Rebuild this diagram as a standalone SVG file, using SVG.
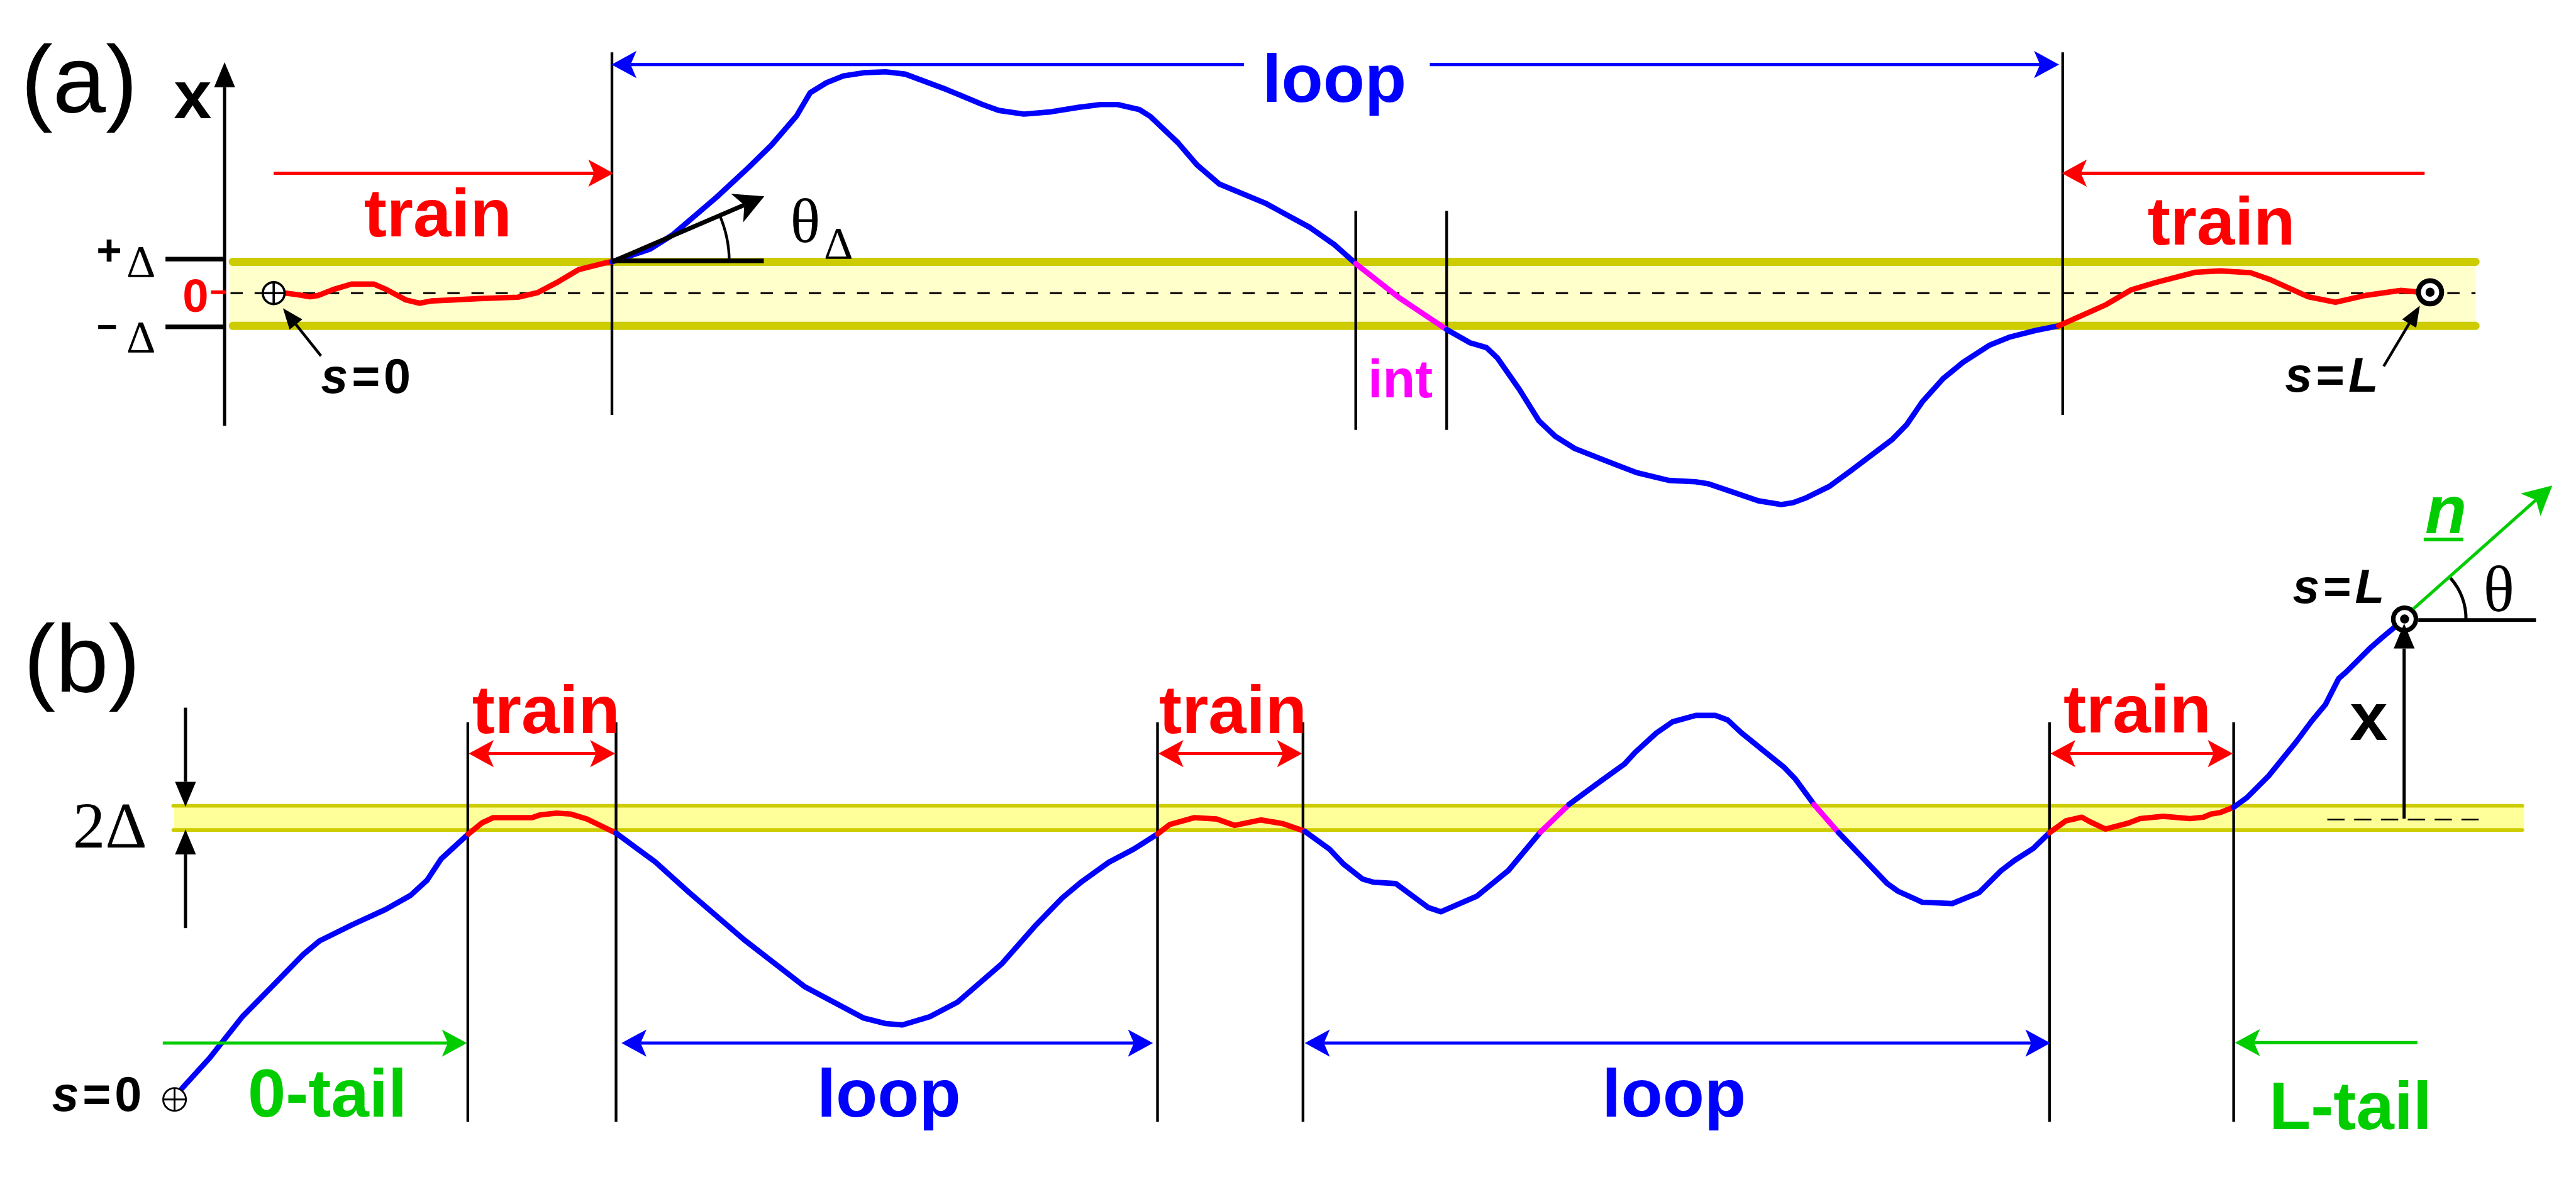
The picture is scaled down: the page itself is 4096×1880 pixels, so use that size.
<svg xmlns="http://www.w3.org/2000/svg" width="4096" height="1880" viewBox="0 0 4096 1880">
<style>
.t{font-family:"Liberation Sans",Arial,sans-serif;font-weight:bold}
.g{font-family:"Liberation Serif","Times New Roman",serif}
.p{font-family:"Liberation Sans",Arial,sans-serif;font-size:210px}
.cb{fill:none;stroke:#0000FF;stroke-width:12;stroke-linejoin:round;stroke-linecap:round}
.cr{fill:none;stroke:#FF0000;stroke-width:12;stroke-linejoin:round;stroke-linecap:round}
.cm{fill:none;stroke:#FF00FF;stroke-width:12;stroke-linejoin:round;stroke-linecap:round}
.vl{stroke:#000;stroke-width:6;fill:none}
.ab{stroke:#0000FF;stroke-width:7;fill:none}
.ar{stroke:#FF0000;stroke-width:7;fill:none}
.ag{stroke:#00CC00;stroke-width:7;fill:none}
.ak{stroke:#000;stroke-width:7;fill:none}
.bl{stroke:#CCCC00;stroke-linecap:round;fill:none}
</style>
<defs>
<marker id="stB" markerUnits="userSpaceOnUse" viewBox="-20 -40 80 80" markerWidth="80" markerHeight="80" refX="0" refY="0" orient="auto-start-reverse"><path d="M42,0 L-13,-30 L0,0 L-13,30 Z" fill="#0000FF"/></marker>
<marker id="stR" markerUnits="userSpaceOnUse" viewBox="-20 -40 80 80" markerWidth="80" markerHeight="80" refX="0" refY="0" orient="auto-start-reverse"><path d="M42,0 L-13,-30 L0,0 L-13,30 Z" fill="#FF0000"/></marker>
<marker id="stG" markerUnits="userSpaceOnUse" viewBox="-20 -40 80 80" markerWidth="80" markerHeight="80" refX="0" refY="0" orient="auto-start-reverse"><path d="M42,0 L-13,-30 L0,0 L-13,30 Z" fill="#00CC00"/></marker>
<marker id="bigK" markerUnits="userSpaceOnUse" viewBox="-20 -40 80 80" markerWidth="80" markerHeight="80" refX="0" refY="0" orient="auto"><path d="M48,0 L-17,-34 L0,0 L-17,34 Z" fill="#000"/></marker>
<marker id="bigG" markerUnits="userSpaceOnUse" viewBox="-20 -40 80 80" markerWidth="80" markerHeight="80" refX="0" refY="0" orient="auto"><path d="M48,0 L-16,-33 L0,0 L-16,33 Z" fill="#00CC00"/></marker>
<marker id="tri" markerUnits="userSpaceOnUse" viewBox="-20 -40 80 80" markerWidth="80" markerHeight="80" refX="0" refY="0" orient="auto"><path d="M55,0 L0,-23 L0,23 Z" fill="#000"/></marker>
<marker id="ptr" markerUnits="userSpaceOnUse" viewBox="-20 -40 80 80" markerWidth="80" markerHeight="80" refX="0" refY="0" orient="auto"><path d="M46,0 L0,-18 L0,18 Z" fill="#000"/></marker>
</defs>
<rect width="4096" height="1880" fill="#fff"/>
<g transform="scale(0.722908)">
<g id="panel-a">
 <g id="band-a">
  <rect x="505" y="576" width="4940" height="141" fill="#FFFFCC"/>
  <path class="bl" stroke-width="18" d="M512,576 H5445 M512,717 H5445"/>
  <path d="M507,645 H5445" stroke="#000" stroke-width="4" stroke-dasharray="27 26"/>
 </g>
 <g id="axis-a">
  <path class="ak" d="M494,937 V192" marker-end="url(#tri)"/>
  <path d="M364,570 H491 M364,719 H491" stroke="#000" stroke-width="10"/>
  <path d="M464,643 H497" stroke="#FF0000" stroke-width="8"/>
 </g>
 <g id="dividers-a">
  <path class="vl" d="M1346,115 V913 M4537,115 V913 M2982,464 V946 M3182,464 V946"/>
 </g>
 <g id="chain-a">
  <polyline class="cr" points="628,645 653,648 682,653 700,650 733,637 773,625 822,625 850,637 893,660 923,667 950,662 994,660 1055,657 1139,654 1182,644 1224,622 1273,593 1333,578 1346,576"/>
  <polyline class="cb" points="1346,576 1430,548 1479,517 1576,434 1648,367 1697,319 1752,255 1782,204 1818,182 1855,167 1900,160 1948,158 1991,163 2082,197 2161,230 2197,243 2252,251 2312,246 2373,236 2421,230 2458,230 2506,241 2530,256 2591,314 2633,363 2682,405 2785,448 2882,501 2936,539 2982,580"/>
  <polyline class="cm" points="2982,580 3076,654 3182,725"/>
  <polyline class="cb" points="3182,725 3233,754 3270,765 3294,788 3342,857 3385,926 3421,960 3464,987 3561,1025 3600,1040 3671,1057 3729,1060 3756,1064 3801,1079 3868,1102 3918,1110 3944,1106 3971,1096 4024,1070 4069,1037 4162,967 4194,934 4229,883 4274,833 4318,797 4377,759 4419,742 4478,727 4528,717"/>
  <polyline class="cr" points="4528,717 4633,670 4687,638 4740,622 4829,599 4883,596 4950,600 4993,615 5077,653 5137,665 5203,650 5280,639 5315,642"/>
 </g>
 <g id="connectors-a">
  <path class="ab" d="M2736,142 H1387" marker-end="url(#stB)"/>
  <path class="ab" d="M3145,142 H4487" marker-end="url(#stB)"/>
  <path class="ar" d="M602,381 H1307" marker-end="url(#stR)"/>
  <path class="ar" d="M5333,381 H4577" marker-end="url(#stR)"/>
  <path d="M1346,576 L1637,451" stroke="#000" stroke-width="10" fill="none" marker-end="url(#bigK)"/>
  <path d="M1346,574 H1680" stroke="#000" stroke-width="10"/>
  <path d="M1583,474 A258,258 0 0 1 1604,574" stroke="#000" stroke-width="6" fill="none"/>
  <path d="M706,783 L651,714" stroke="#000" stroke-width="6" marker-end="url(#ptr)"/>
  <path d="M5243,806 L5299,712" stroke="#000" stroke-width="6" marker-end="url(#ptr)"/>
 </g>
 <g id="ends-a">
  <g id="s0-a"><circle cx="602" cy="645" r="24" fill="#fff" stroke="#000" stroke-width="5"/><path d="M578,645 H626 M602,621 V669" stroke="#000" stroke-width="5"/></g>
  <g id="sL-a"><circle cx="5345" cy="643" r="25.5" fill="#fff" stroke="#000" stroke-width="11"/><circle cx="5345" cy="643" r="10" fill="#000"/></g>
 </g>
 <g id="labels-a">
  <text class="p" x="46" y="247">(a)</text>
  <text class="t" x="424" y="260" font-size="150" text-anchor="middle">x</text>
  <text class="t" x="212" y="582" font-size="96">+</text>
  <text class="g" x="278" y="609" font-size="100">Δ</text>
  <text class="t" x="213" y="745" font-size="78">−</text>
  <text class="g" x="278" y="775" font-size="100">Δ</text>
  <text class="t" x="430" y="686" font-size="103" text-anchor="middle" fill="#FF0000">0</text>
  <text class="t" x="963" y="520" font-size="150" text-anchor="middle" fill="#FF0000">train</text>
  <text class="t" x="4886" y="538" font-size="150" text-anchor="middle" fill="#FF0000">train</text>
  <text class="t" x="2935" y="224" font-size="150" text-anchor="middle" fill="#0000FF">loop</text>
  <text class="t" x="3080" y="874" font-size="117" text-anchor="middle" fill="#FF00FF">int</text>
  <text class="g" x="1738" y="532" font-size="138">θ</text>
  <text class="g" x="1812" y="568" font-size="100">Δ</text>
  <text class="t" x="706" y="864" font-size="107" letter-spacing="8"><tspan font-style="italic">s</tspan>=0</text>
  <text class="t" x="5026" y="862" font-size="108" letter-spacing="8"><tspan font-style="italic">s</tspan>=<tspan font-style="italic">L</tspan></text>
 </g>
</g>
<g id="panel-b">
 <g id="band-b">
  <rect x="383" y="1773" width="5169" height="53" fill="#FFFF99"/>
  <path class="bl" stroke-width="8" d="M381,1773 H5548 M381,1826 H5548"/>
  <path d="M5119,1803 H5460" stroke="#000" stroke-width="3.5" stroke-dasharray="38 21"/>
 </g>
 <g id="dividers-b">
  <path class="vl" d="M1029,1589 V2468 M1355,1589 V2468 M2546,1589 V2468 M2866,1589 V2468 M4508,1589 V2468 M4913,1589 V2468"/>
 </g>
 <g id="chain-b">
  <polyline class="cb" points="400,2395 461,2328 533,2237 594,2175 667,2100 703,2070 776,2034 848,2001 903,1970 939,1937 970,1890 1030,1835"/>
  <polyline class="cr" points="1030,1835 1061,1810 1085,1799 1170,1799 1188,1793 1224,1789 1255,1791 1291,1802 1355,1833"/>
  <polyline class="cb" points="1355,1833 1442,1897 1515,1963 1636,2067 1770,2171 1900,2240 1948,2252 1985,2255 2045,2237 2106,2205 2203,2121 2276,2038 2336,1976 2379,1940 2439,1897 2494,1868 2546,1835"/>
  <polyline class="cr" points="2546,1835 2573,1814 2627,1799 2676,1802 2716,1816 2773,1804 2821,1812 2870,1829"/>
  <polyline class="cb" points="2870,1829 2924,1868 2955,1901 2997,1934 3021,1941 3070,1944 3142,1997 3169,2006 3248,1972 3318,1915 3388,1831"/>
  <polyline class="cm" points="3388,1831 3451,1770"/>
  <polyline class="cb" points="3451,1770 3512,1725 3573,1681 3597,1655 3643,1613 3679,1588 3730,1574 3773,1574 3800,1584 3830,1612 3925,1689 3949,1714 3990,1770"/>
  <polyline class="cm" points="3990,1770 4044,1832"/>
  <polyline class="cb" points="4044,1832 4151,1944 4175,1961 4228,1985 4294,1988 4353,1964 4401,1916 4431,1893 4472,1867 4508,1832"/>
  <polyline class="cr" points="4508,1832 4544,1806 4579,1798 4597,1808 4631,1824 4681,1811 4707,1801 4758,1796 4817,1801 4847,1798 4863,1791 4883,1788 4913,1776"/>
  <polyline class="cb" points="4913,1776 4942,1755 4990,1707 5050,1633 5085,1586 5115,1550 5144,1493 5161,1478 5212,1427 5238,1404 5268,1379"/>
 </g>
 <g id="ends-b">
  <g id="s0-b"><circle cx="384" cy="2419" r="25" fill="#fff" stroke="#000" stroke-width="4"/><path d="M359,2419 H409 M384,2394 V2444" stroke="#000" stroke-width="4"/></g>
  <g id="sL-b"><circle cx="5289" cy="1362" r="25" fill="#fff" stroke="#000" stroke-width="10"/><circle cx="5289" cy="1362" r="10" fill="#000"/></g>
 </g>
 <g id="connectors-b">
  <path class="ak" stroke-width="8" d="M408,1557 V1720" marker-end="url(#tri)"/>
  <path class="ak" stroke-width="8" d="M408,2042 V1880" marker-end="url(#tri)"/>
  <path class="ar" d="M1073,1658 H1311" marker-start="url(#stR)" marker-end="url(#stR)"/>
  <path class="ar" d="M2590,1658 H2822" marker-start="url(#stR)" marker-end="url(#stR)"/>
  <path class="ar" d="M4552,1658 H4869" marker-start="url(#stR)" marker-end="url(#stR)"/>
  <path class="ag" d="M358,2295 H985" marker-end="url(#stG)"/>
  <path class="ab" d="M1409,2295 H2494" marker-start="url(#stB)" marker-end="url(#stB)"/>
  <path class="ab" d="M2912,2295 H4468" marker-start="url(#stB)" marker-end="url(#stB)"/>
  <path class="ag" d="M5317,2294 H4958" marker-end="url(#stG)"/>
  <path class="ag" d="M5308,1340 L5578,1100" marker-end="url(#bigG)"/>
  <path d="M5319,1364 H5578" stroke="#000" stroke-width="8"/>
  <path d="M5390,1272 A135,135 0 0 1 5424,1364" stroke="#000" stroke-width="7" fill="none"/>
  <path class="ak" stroke-width="8" d="M5288,1801 V1427" marker-end="url(#tri)"/>
 </g>
 <g id="labels-b">
  <text class="p" x="52" y="1521">(b)</text>
  <text class="g" x="160" y="1864" font-size="143">2Δ</text>
  <text class="t" x="1201" y="1613" font-size="150" text-anchor="middle" fill="#FF0000">train</text>
  <text class="t" x="2712" y="1613" font-size="150" text-anchor="middle" fill="#FF0000">train</text>
  <text class="t" x="4701" y="1612" font-size="150" text-anchor="middle" fill="#FF0000">train</text>
  <text class="t" x="720" y="2457" font-size="150" text-anchor="middle" fill="#00CC00">0-tail</text>
  <text class="t" x="1955" y="2457" font-size="150" text-anchor="middle" fill="#0000FF">loop</text>
  <text class="t" x="3682" y="2457" font-size="150" text-anchor="middle" fill="#0000FF">loop</text>
  <text class="t" x="5170" y="2485" font-size="150" text-anchor="middle" fill="#00CC00">L-tail</text>
  <text class="t" x="114" y="2444" font-size="107" letter-spacing="8"><tspan font-style="italic">s</tspan>=0</text>
  <text class="t" x="5043" y="1327" font-size="106" letter-spacing="8"><tspan font-style="italic">s</tspan>=<tspan font-style="italic">L</tspan></text>
  <text class="t" x="5210" y="1628" font-size="150" text-anchor="middle">x</text>
  <text class="t" x="5334" y="1173" font-size="150" font-style="italic" fill="#00CC00">n</text>
  <path d="M5331,1187 H5418" stroke="#00CC00" stroke-width="8"/>
  <text class="g" x="5462" y="1345" font-size="143">θ</text>
 </g>
</g>
</g>
</svg>
